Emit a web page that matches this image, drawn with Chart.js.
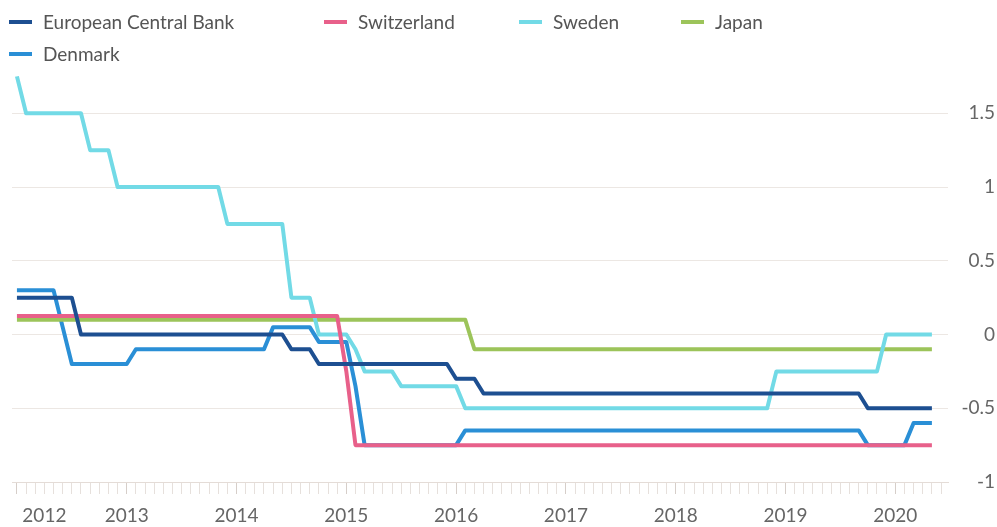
<!DOCTYPE html>
<html>
<head>
<meta charset="utf-8">
<title>Policy rates</title>
<script src="https://cdn.jsdelivr.net/npm/chart.js@4.4.1/dist/chart.umd.min.js"></script>
<style>
  body { margin: 0; background: #fff; }
  #wrap { width: 997px; height: 527px; position: relative; }
</style>
</head>
<body>
<div id="wrap"><canvas id="graph"></canvas></div>
<script>
// one value per month, Jan 2012 .. May 2020
const firstYear = 2012;
const yearLabels = ["2012", "2013", "2014", "2015", "2016", "2017", "2018", "2019", "2020"];
const yTicks = [-1, -0.5, 0, 0.5, 1, 1.5];

const ecb = [
  0.25, 0.25, 0.25, 0.25, 0.25, 0.25, 0.25, 0, 0, 0, 0, 0,
  0, 0, 0, 0, 0, 0, 0, 0, 0, 0, 0, 0,
  0, 0, 0, 0, 0, 0, -0.1, -0.1, -0.1, -0.2, -0.2, -0.2,
  -0.2, -0.2, -0.2, -0.2, -0.2, -0.2, -0.2, -0.2, -0.2, -0.2, -0.2, -0.2,
  -0.3, -0.3, -0.3, -0.4, -0.4, -0.4, -0.4, -0.4, -0.4, -0.4, -0.4, -0.4,
  -0.4, -0.4, -0.4, -0.4, -0.4, -0.4, -0.4, -0.4, -0.4, -0.4, -0.4, -0.4,
  -0.4, -0.4, -0.4, -0.4, -0.4, -0.4, -0.4, -0.4, -0.4, -0.4, -0.4, -0.4,
  -0.4, -0.4, -0.4, -0.4, -0.4, -0.4, -0.4, -0.4, -0.4, -0.5, -0.5, -0.5,
  -0.5, -0.5, -0.5, -0.5, -0.5
];
const switzerland = [
  0.125, 0.125, 0.125, 0.125, 0.125, 0.125, 0.125, 0.125, 0.125, 0.125, 0.125, 0.125,
  0.125, 0.125, 0.125, 0.125, 0.125, 0.125, 0.125, 0.125, 0.125, 0.125, 0.125, 0.125,
  0.125, 0.125, 0.125, 0.125, 0.125, 0.125, 0.125, 0.125, 0.125, 0.125, 0.125, 0.125,
  -0.25, -0.75, -0.75, -0.75, -0.75, -0.75, -0.75, -0.75, -0.75, -0.75, -0.75, -0.75,
  -0.75, -0.75, -0.75, -0.75, -0.75, -0.75, -0.75, -0.75, -0.75, -0.75, -0.75, -0.75,
  -0.75, -0.75, -0.75, -0.75, -0.75, -0.75, -0.75, -0.75, -0.75, -0.75, -0.75, -0.75,
  -0.75, -0.75, -0.75, -0.75, -0.75, -0.75, -0.75, -0.75, -0.75, -0.75, -0.75, -0.75,
  -0.75, -0.75, -0.75, -0.75, -0.75, -0.75, -0.75, -0.75, -0.75, -0.75, -0.75, -0.75,
  -0.75, -0.75, -0.75, -0.75, -0.75
];
const sweden = [
  1.75, 1.5, 1.5, 1.5, 1.5, 1.5, 1.5, 1.5, 1.25, 1.25, 1.25, 1,
  1, 1, 1, 1, 1, 1, 1, 1, 1, 1, 1, 0.75,
  0.75, 0.75, 0.75, 0.75, 0.75, 0.75, 0.25, 0.25, 0.25, 0, 0, 0,
  0, -0.1, -0.25, -0.25, -0.25, -0.25, -0.35, -0.35, -0.35, -0.35, -0.35, -0.35,
  -0.35, -0.5, -0.5, -0.5, -0.5, -0.5, -0.5, -0.5, -0.5, -0.5, -0.5, -0.5,
  -0.5, -0.5, -0.5, -0.5, -0.5, -0.5, -0.5, -0.5, -0.5, -0.5, -0.5, -0.5,
  -0.5, -0.5, -0.5, -0.5, -0.5, -0.5, -0.5, -0.5, -0.5, -0.5, -0.5, -0.25,
  -0.25, -0.25, -0.25, -0.25, -0.25, -0.25, -0.25, -0.25, -0.25, -0.25, -0.25, 0,
  0, 0, 0, 0, 0
];
const japan = [
  0.1, 0.1, 0.1, 0.1, 0.1, 0.1, 0.1, 0.1, 0.1, 0.1, 0.1, 0.1,
  0.1, 0.1, 0.1, 0.1, 0.1, 0.1, 0.1, 0.1, 0.1, 0.1, 0.1, 0.1,
  0.1, 0.1, 0.1, 0.1, 0.1, 0.1, 0.1, 0.1, 0.1, 0.1, 0.1, 0.1,
  0.1, 0.1, 0.1, 0.1, 0.1, 0.1, 0.1, 0.1, 0.1, 0.1, 0.1, 0.1,
  0.1, 0.1, -0.1, -0.1, -0.1, -0.1, -0.1, -0.1, -0.1, -0.1, -0.1, -0.1,
  -0.1, -0.1, -0.1, -0.1, -0.1, -0.1, -0.1, -0.1, -0.1, -0.1, -0.1, -0.1,
  -0.1, -0.1, -0.1, -0.1, -0.1, -0.1, -0.1, -0.1, -0.1, -0.1, -0.1, -0.1,
  -0.1, -0.1, -0.1, -0.1, -0.1, -0.1, -0.1, -0.1, -0.1, -0.1, -0.1, -0.1,
  -0.1, -0.1, -0.1, -0.1, -0.1
];
const denmark = [
  0.3, 0.3, 0.3, 0.3, 0.3, 0.05, -0.2, -0.2, -0.2, -0.2, -0.2, -0.2,
  -0.2, -0.1, -0.1, -0.1, -0.1, -0.1, -0.1, -0.1, -0.1, -0.1, -0.1, -0.1,
  -0.1, -0.1, -0.1, -0.1, 0.05, 0.05, 0.05, 0.05, 0.05, -0.05, -0.05, -0.05,
  -0.05, -0.35, -0.75, -0.75, -0.75, -0.75, -0.75, -0.75, -0.75, -0.75, -0.75, -0.75,
  -0.75, -0.65, -0.65, -0.65, -0.65, -0.65, -0.65, -0.65, -0.65, -0.65, -0.65, -0.65,
  -0.65, -0.65, -0.65, -0.65, -0.65, -0.65, -0.65, -0.65, -0.65, -0.65, -0.65, -0.65,
  -0.65, -0.65, -0.65, -0.65, -0.65, -0.65, -0.65, -0.65, -0.65, -0.65, -0.65, -0.65,
  -0.65, -0.65, -0.65, -0.65, -0.65, -0.65, -0.65, -0.65, -0.65, -0.75, -0.75, -0.75,
  -0.75, -0.75, -0.6, -0.6, -0.6
];

const months = ecb.map((v, i) => firstYear + i / 12);
const tickMonths = [];
for (let i = 0; i <= 101; i++) tickMonths.push(firstYear + i / 12);

const toPoints = (vals) => vals.map((v, i) => ({ x: months[i], y: v }));

// where the legend entries sit, above the plot
const legendSpots = [[9, 22], [324, 22], [519, 22], [681, 22], [9, 54]];
const legendFont = "19px Lato";

const topLegend = {
  id: "topLegend",
  afterDraw(chart) {
    const c = chart.ctx;
    c.save();
    c.font = legendFont;
    c.textBaseline = "middle";
    chart.data.datasets.forEach((ds, i) => {
      const [x, y] = legendSpots[i];
      c.fillStyle = ds.borderColor;
      c.fillRect(x, y - 2, 23, 4);
      c.fillStyle = "#555";
      c.fillText(ds.label, x + 34, y + 1);
    });
    c.restore();
  },
};

// first year label is pushed in a little so it stays inside the frame
const xLabel = (i) => {
  if (i === 3) return yearLabels[0];
  if (i > 0 && i % 12 === 0) return yearLabels[i / 12];
  return "";
};

const graph = document.getElementById("graph").getContext("2d");

const myChart = new Chart(graph, {
  type: "line",
  data: {
    datasets: [
      { label: "European Central Bank", data: toPoints(ecb), borderColor: "#1d4f91" },
      { label: "Switzerland", data: toPoints(switzerland), borderColor: "#e8608a" },
      { label: "Sweden", data: toPoints(sweden), borderColor: "#72dae6" },
      { label: "Japan", data: toPoints(japan), borderColor: "#9cc45a" },
      { label: "Denmark", data: toPoints(denmark), borderColor: "#2a8fd6" },
    ],
  },
  options: {
    responsive: true,
    maintainAspectRatio: false,
    animation: false,
    layout: {
      padding: { top: 69, left: 12, right: 2, bottom: 0 },
    },
    elements: {
      point: { radius: 0 },
      line: { borderWidth: 4, tension: 0, borderJoinStyle: "round" },
    },
    plugins: {
      legend: { display: false },
      tooltip: { enabled: false },
    },
    scales: {
      x: {
        type: "linear",
        min: 2011.955,
        max: 2020.48,
        afterBuildTicks: (scale) => {
          scale.ticks = tickMonths.map((v) => ({ value: v }));
        },
        afterFit: (scale) => {
          scale.height = 45;
        },
        grid: {
          drawOnChartArea: false,
          drawTicks: true,
          tickLength: 12,
          tickColor: (ctx) => (ctx.index % 12 === 0 ? "#d6cec9" : "#e6e0dc"),
        },
        border: { color: "#e4dcd7" },
        ticks: {
          autoSkip: false,
          maxRotation: 0,
          padding: 10,
          color: "#666",
          font: { family: "Lato", size: 19 },
          callback: (v, i) => xLabel(i),
        },
      },
      y: {
        position: "right",
        min: -1,
        max: 1.8,
        afterBuildTicks: (scale) => {
          scale.ticks = yTicks.map((v) => ({ value: v }));
        },
        afterFit: (scale) => {
          scale.width = 47;
        },
        grid: { color: "#ece7e3", drawTicks: false },
        border: { display: false },
        ticks: {
          crossAlign: "far",
          padding: 14,
          color: "#666",
          font: { family: "Lato", size: 19 },
          callback: (v) => String(v),
        },
      },
    },
  },
  plugins: [topLegend],
});
</script>
</body>
</html>
